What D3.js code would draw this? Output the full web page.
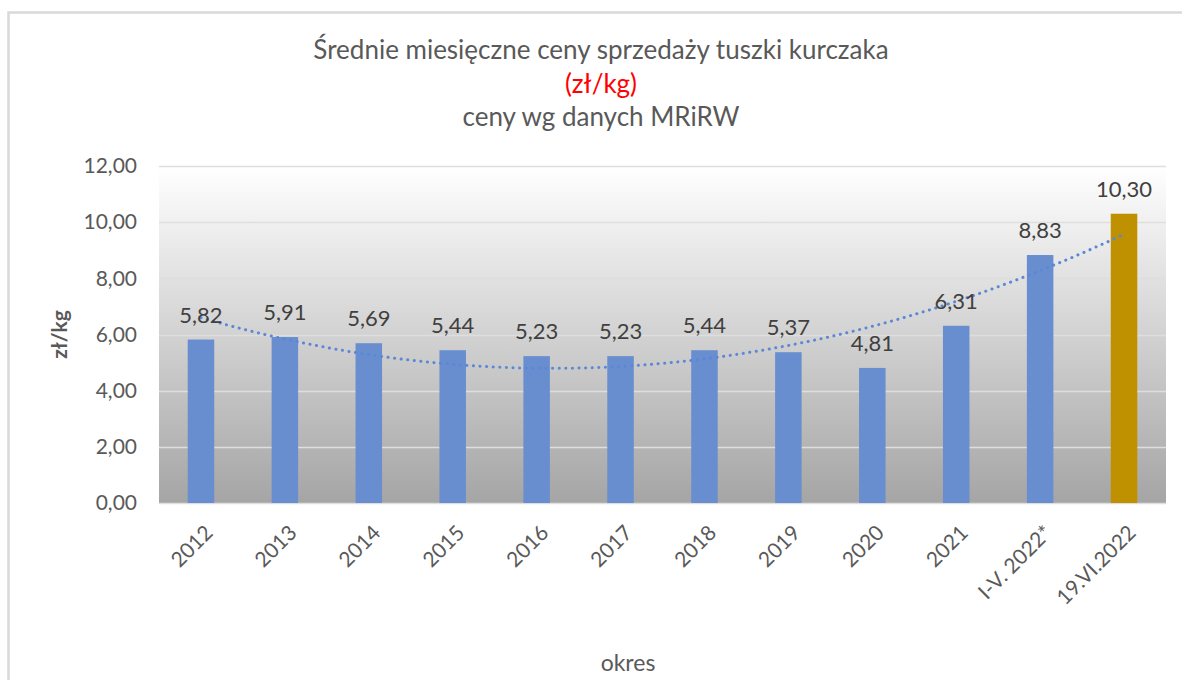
<!DOCTYPE html>
<html>
<head>
<meta charset="utf-8">
<script src="https://cdn.jsdelivr.net/npm/d3@7"></script>
<style>
  body { margin: 0; background: #fff; }
  text { font-family: Lato, "Open Sans", sans-serif; }
</style>
</head>
<body>
<script>
// data
const categories = ["2012", "2013", "2014", "2015", "2016", "2017", "2018", "2019", "2020", "2021", "I-V. 2022*", "19.VI.2022"];
const prices = [5.82, 5.91, 5.69, 5.44, 5.23, 5.23, 5.44, 5.37, 4.81, 6.31, 8.83, 10.30];
const yTicks = [0, 2, 4, 6, 8, 10, 12];
const titleLines = ["Średnie miesięczne ceny sprzedaży tuszki kurczaka", "(zł/kg)", "ceny wg danych MRiRW"];

const W = 1182, H = 680;
const margin = { top: 166, right: 16, bottom: 177, left: 159 };
const innerW = W - margin.left - margin.right;
const innerH = H - margin.top - margin.bottom;

let svg = d3.select("body")
    .append("svg")
    .attr("width", W)
    .attr("height", H);

// chart frame
svg.append("rect")
    .attr("x", 8.5).attr("y", 12.5)
    .attr("width", W + 20).attr("height", H + 20)
    .attr("fill", "#fff")
    .attr("stroke", "#d9d9d9")
    .attr("stroke-width", 2.5);

let defs = svg.append("defs");
let grad = defs.append("linearGradient")
    .attr("id", "bg")
    .attr("x1", 0).attr("y1", 0).attr("x2", 0).attr("y2", 1);
grad.append("stop").attr("offset", "0%").attr("stop-color", "#ffffff");
grad.append("stop").attr("offset", "100%").attr("stop-color", "#a5a5a5");

let g = svg.append("g")
    .attr("transform", `translate(${margin.left},${margin.top})`);

let x = d3.scaleBand()
    .domain(categories)
    .range([0, innerW])
    .paddingInner(0.684)
    .paddingOuter(0.342);

let y = d3.scaleLinear()
    .domain([0, 12])
    .range([innerH, 0]);

// plot background
g.append("rect")
    .attr("width", innerW)
    .attr("height", innerH)
    .attr("fill", "url(#bg)");

// gridlines
g.append("g").selectAll("line")
    .data(yTicks)
    .enter()
    .append("line")
    .attr("x1", 0).attr("x2", innerW)
    .attr("y1", d => Math.round(y(d)) + 0.5)
    .attr("y2", d => Math.round(y(d)) + 0.5)
    .attr("stroke", "#dedede")
    .attr("stroke-width", 1.5);

// y axis labels
let yAxis = g.append("g")
    .call(d3.axisLeft(y).tickValues(yTicks).tickSize(0).tickPadding(22)
        .tickFormat(d => d3.format(".2f")(d).replace(".", ",")));
yAxis.select(".domain").remove();
yAxis.selectAll("text")
    .attr("font-size", 21)
    .attr("fill", "#595959")
    .style("font-family", "Lato, sans-serif");

// bars
g.append("g").selectAll("rect")
    .data(prices)
    .enter()
    .append("rect")
    .attr("x", (d, i) => x(categories[i]))
    .attr("y", d => y(d))
    .attr("width", x.bandwidth())
    .attr("height", d => innerH - y(d))
    .attr("fill", (d, i) => i === categories.length - 1 ? "#bf9000" : "#698ed0");

// polynomial (order 2) trendline, least squares like Excel
let n = prices.length;
let xs = prices.map((d, i) => i + 1);
let S = [0, 0, 0, 0, 0], T = [0, 0, 0];
xs.forEach((xi, i) => {
    for (let k = 0; k < 5; k++) S[k] += Math.pow(xi, k);
    for (let k = 0; k < 3; k++) T[k] += Math.pow(xi, k) * prices[i];
});
function solve3(A, b) {
    let M = A.map((r, i) => r.concat([b[i]]));
    for (let c = 0; c < 3; c++) {
        let p = c;
        for (let r = c + 1; r < 3; r++) if (Math.abs(M[r][c]) > Math.abs(M[p][c])) p = r;
        [M[c], M[p]] = [M[p], M[c]];
        for (let r = 0; r < 3; r++) {
            if (r === c) continue;
            let f = M[r][c] / M[c][c];
            for (let k = c; k < 4; k++) M[r][k] -= f * M[c][k];
        }
    }
    return M.map((r, i) => r[3] / r[i]);
}
let coef = solve3([[S[0], S[1], S[2]], [S[1], S[2], S[3]], [S[2], S[3], S[4]]], T);
let trendX = d3.scaleLinear().domain([1, n])
    .range([x(categories[0]) + x.bandwidth() / 2, x(categories[n - 1]) + x.bandwidth() / 2]);
let trendPts = d3.range(1, n + 0.001, 0.1).map(t => [trendX(t), y(coef[0] + coef[1] * t + coef[2] * t * t)]);

g.append("path")
    .datum(trendPts)
    .attr("d", d3.line().curve(d3.curveLinear))
    .attr("fill", "none")
    .attr("stroke", "#5b87d6")
    .attr("stroke-width", 3)
    .attr("stroke-linecap", "round")
    .attr("stroke-dasharray", "0.1 6.5");

// data labels
g.append("g").selectAll("text")
    .data(prices)
    .enter()
    .append("text")
    .attr("x", (d, i) => x(categories[i]) + x.bandwidth() / 2)
    .attr("y", d => y(d) - 17)
    .attr("text-anchor", "middle")
    .attr("font-size", 22)
    .attr("fill", "#404040")
    .text(d => d3.format(".2f")(d).replace(".", ","));

// x axis labels
g.append("g").selectAll("text")
    .data(categories)
    .enter()
    .append("text")
    .attr("transform", d => `translate(${x(d) + x.bandwidth() / 2 + 2},${innerH + 20}) rotate(-45)`)
    .attr("text-anchor", "end")
    .attr("dy", "0.75em")
    .attr("font-size", 21)
    .attr("fill", "#595959")
    .text(d => d);

// axis titles
svg.append("text")
    .attr("transform", `translate(67,${margin.top + innerH / 2}) rotate(-90)`)
    .attr("text-anchor", "middle")
    .attr("font-size", 21)
    .attr("font-weight", "bold")
    .attr("fill", "#595959")
    .text("zł/kg");

svg.append("text")
    .attr("x", 628).attr("y", 671)
    .attr("text-anchor", "middle")
    .attr("font-size", 23)
    .attr("fill", "#595959")
    .text("okres");

// title
svg.append("g").selectAll("text")
    .data(titleLines)
    .enter()
    .append("text")
    .attr("x", 601)
    .attr("y", (d, i) => 59 + i * 33.5)
    .attr("text-anchor", "middle")
    .attr("font-size", 26)
    .attr("fill", (d, i) => i === 1 ? "#ff0000" : "#595959")
    .text(d => d);
</script>
</body>
</html>
